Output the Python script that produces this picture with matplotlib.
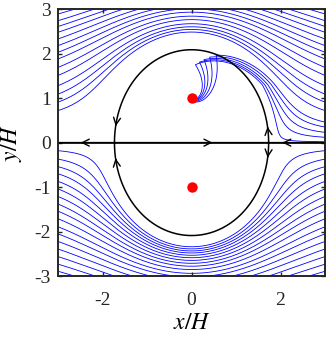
import numpy as np
import matplotlib
matplotlib.use("Agg")
import matplotlib.pyplot as plt

plt.rcParams['font.family'] = ['Liberation Serif', 'DejaVu Serif']
plt.rcParams['mathtext.fontset'] = 'stix'
plt.rcParams['axes.unicode_minus'] = False

# vortex positions (x/H, y/H)
vort_x = [0.0, 0.0]
vort_y = [1.0, -1.0]
# half-separation of the vortex pair that carries the blue streamlines
s_flow = 1.1

# streamline seeds (x/H = -3)
seed_up = [2.89, 2.74, 2.61, 2.48, 2.33, 2.18, 2.03, 1.88, 1.69, 1.51,
           1.28, 1.09, 0.91, 0.72]
seed_lo = [-0.18, -0.37, -0.54, -0.70, -0.87, -1.04, -1.21, -1.38, -1.54,
           -1.71, -1.89, -2.05, -2.22, -2.39, -2.56, -2.73, -2.89]
# lines that end in the upper vortex, read off the right edge (x/H = 3),
# with the angle (rad) where each one turns over at the top
seed_trap = [0.46, 0.35, 0.23, 0.12, 0.02]
turn_ang = [1.05, 1.15, 1.25, 1.35, 1.45]

# arrow heads on the dividing streamline: axis (x, dir) and oval (side, y)
axis_arrows = [(-2.44, -1), (0.42, 1), (2.09, -1)]
oval_arrows = [(-1, 0.42), (-1, -0.40), (1, 0.31), (1, -0.29)]


def psi(x, y):
    r1 = (x - vort_x[0])**2 + (y - vort_y[0])**2
    r2 = (x - vort_x[1])**2 + (y - vort_y[1])**2
    return -np.log(r1) + np.log(r2) - y


def vel_oval(x, y):
    r1 = x**2 + (y - 1)**2
    r2 = x**2 + (y + 1)**2
    return -2*(y - 1)/r1 + 2*(y + 1)/r2 - 1, 2*x/r1 - 2*x/r2


def vel_flow(x, y):
    r1 = x**2 + (y - s_flow)**2
    r2 = x**2 + (y + s_flow)**2
    u = -2*(y - s_flow)/r1 + 2*(y + s_flow)/r2 - 1/s_flow
    v = 2*x/r1 - 2*x/r2
    return u, v


def swirl(k, sense):
    # spiral into the upper vortex: sense=1 counter-clockwise, -1 clockwise
    def f(x, y):
        dx, dy = x - vort_x[0], y - vort_y[0]
        r = dx**2 + dy**2
        return (-sense*dy - k*dx)/r, (sense*dx - k*dy)/r
    return f


def trace(f, x, y, sgn=1, h=0.008, n=5000, stop=None):
    pts = [(x, y)]

    def g(x, y):
        u, v = f(x, y)
        s = np.hypot(u, v) + 1e-12
        return sgn*u/s, sgn*v/s
    for _ in range(n):
        k1 = g(x, y)
        k2 = g(x + h/2*k1[0], y + h/2*k1[1])
        k3 = g(x + h/2*k2[0], y + h/2*k2[1])
        k4 = g(x + h*k3[0], y + h*k3[1])
        x += h/6*(k1[0] + 2*k2[0] + 2*k3[0] + k4[0])
        y += h/6*(k1[1] + 2*k2[1] + 2*k3[1] + k4[1])
        pts.append((x, y))
        if abs(x) > 3.02 or abs(y) > 4:
            break
        if np.hypot(x - vort_x[0], y - vort_y[0]) < 0.08:
            break
        if stop is not None and stop(x, y):
            break
    return np.array(pts)


fig = plt.figure(figsize=(3.28, 3.38), dpi=100)
ax = fig.add_axes([0.177, 0.183, 0.814, 0.790])

for y0 in seed_up + seed_lo:
    p = trace(vel_flow, -3.0, y0, sgn=-1)
    ax.plot(p[:, 0], p[:, 1], color='#0000ff', lw=0.6)

for y0, a in zip(seed_trap, turn_ang):
    pa = trace(vel_flow, 3.0, y0, stop=lambda x, y: y > 1.3)
    pb = trace(swirl(0.6, 1), pa[-1, 0], pa[-1, 1],
               stop=lambda x, y: np.arctan2(y - vort_y[0], x - vort_x[0]) > a)
    pc = trace(swirl(1.2, -1), pb[-1, 0], pb[-1, 1])
    p = np.vstack([pa, pb, pc])
    ax.plot(p[:, 0], p[:, 1], color='#0000ff', lw=0.6)

# dividing streamline (Kelvin oval and the axis)
gx = np.linspace(-3.2, 3.2, 801)
gy = np.linspace(-3.2, 3.2, 800)
X, Y = np.meshgrid(gx, gy)
ax.contour(X, Y, psi(X, Y), levels=[0], colors='k', linewidths=1.1)
ax.plot([-3, 3], [0, 0], color='k', lw=1.1)

aprops = dict(arrowstyle='->,head_length=0.5,head_width=0.25', color='k', lw=1.0)
for x0, d in axis_arrows:
    ax.annotate('', xy=(x0 + 0.05*d, 0), xytext=(x0 - 0.05*d, 0), arrowprops=aprops)
for side, y0 in oval_arrows:
    xs = np.linspace(0.3*side, 2.0*side, 4001)
    vals = psi(xs, y0)
    i = np.where(np.sign(vals[1:]) != np.sign(vals[:-1]))[0][0]
    x0 = xs[i]
    u, v = vel_oval(x0, y0)
    s = np.hypot(u, v)
    dx, dy = 0.05*u/s, 0.05*v/s
    ax.annotate('', xy=(x0 + dx, y0 + dy), xytext=(x0 - dx, y0 - dy), arrowprops=aprops)

ax.plot(vort_x, vort_y, 'o', color='#ff0000', ms=7.5, mec='none', zorder=5)

ax.set_xlim(-3, 3)
ax.set_ylim(-3, 3)
ax.set_xticks([-2, 0, 2])
ax.set_yticks([-3, -2, -1, 0, 1, 2, 3])
ax.tick_params(direction='in', length=3, width=1.0, labelsize=14, top=True, right=True,
               colors='#262626', labelcolor='#262626')
ax.tick_params(axis='x', pad=11.5)
ax.tick_params(axis='y', pad=5)
for sp in ax.spines.values():
    sp.set_linewidth(1.4)
    sp.set_color('#262626')
ax.set_xlabel('$x/H$', fontsize=17, labelpad=3)
ax.set_ylabel('$y/H$', fontsize=17, labelpad=8)

fig.savefig('out.png', dpi=100)
